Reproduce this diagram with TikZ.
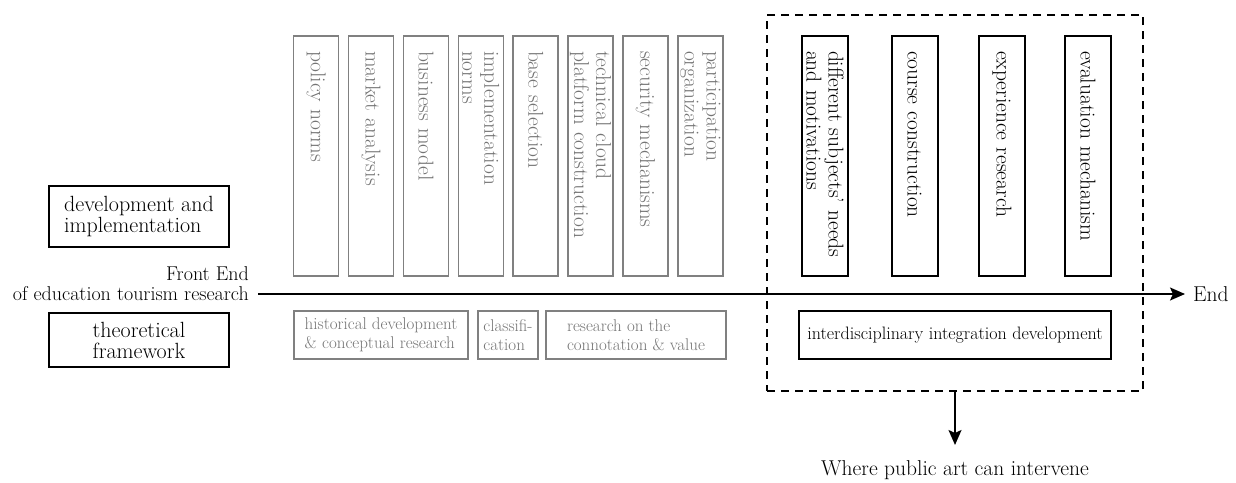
\documentclass[tikz,border=0pt]{standalone}
\usepackage{tikz}
\usetikzlibrary{arrows.meta, positioning}
\definecolor{boxgray}{HTML}{808080}
\definecolor{txtgray}{HTML}{747474}

\begin{document}
\begin{tikzpicture}[
    x=1pt, y=-1pt,
    font=\fontsize{21.5}{22}\selectfont,
    small/.style={font=\fontsize{17}{19}\selectfont},
    sidebox/.style={draw, line width=2pt, minimum width=180pt, inner ysep=3pt, align=left, font=\fontsize{22}{21}\selectfont},
    colbox/.style={draw, line width=2pt, rotate=-90, minimum height=46pt, text width=210pt, inner xsep=15pt, inner ysep=0pt, align=left},
    graycol/.style={colbox, draw=boxgray, text=txtgray, line width=1.6pt, minimum height=45pt},
    graybox/.style={small, draw=boxgray, text=txtgray, line width=1.6pt, minimum height=48pt, inner xsep=3pt, align=left},
    blackbox/.style={font=\fontsize{18}{19}\selectfont, draw, line width=2pt, minimum height=48pt},
    zonebox/.style={draw, line width=1.6pt, dash pattern=on 8pt off 6pt, minimum width=376pt, minimum height=376pt},
    arrow/.style={-{Stealth[length=15pt, width=13pt, inset=3pt]}, line width=1.6pt}
]
\useasboundingbox (0,0) rectangle (1236,482);
\node[sidebox, minimum height=61pt] (dev) at (139,216.5) {development and\\implementation};
\node[sidebox, minimum height=54pt] (theo) at (139,340) {theoretical\\framework};
\node[align=right, anchor=east, inner sep=2pt, font=\fontsize{20}{20}\selectfont] (front) at (251,284) {Front End\\of education tourism research};
\foreach \lbl [count=\i] in {policy norms, market analysis, business model, {implementation\\norms}, base selection, {technical cloud\\platform construction}, security mechanisms, {participation\\organization}}
  \node[graycol] (g\i) at (261.2+54.9*\i,156) {\lbl};
\foreach \xc/\lbl [count=\i] in {825/{different subjects' needs\\and motivations}, 914.5/course construction, 1002/experience research, 1088/evaluation mechanism}
  \node[colbox] (b\i) at (\xc,156) {\lbl};
\node[graybox, minimum width=174pt] (hist) at (381,335) {historical development\\\& conceptual research};
\node[graybox, minimum width=60pt] (cls) at (508,335) {classifi-\\cation};
\node[graybox, minimum width=180pt] (conn) at (636,335) {research on the\\connotation \& value};
\node[blackbox, minimum width=312pt] (inter) at (955,335) {interdisciplinary integration development};
\node[zonebox] (zone) at (955,203) {};
\coordinate (start) at (258,294);
\node[anchor=west, inner xsep=8pt] (endlbl) at (1185,294) {End};
\node[anchor=north, inner sep=3pt] (note) at (955,457) {Where public art can intervene};
\draw[arrow] (start) -- (endlbl);
\draw[arrow, shorten >=12pt] (zone.south) -- (note.north);
\end{tikzpicture}
\end{document}
